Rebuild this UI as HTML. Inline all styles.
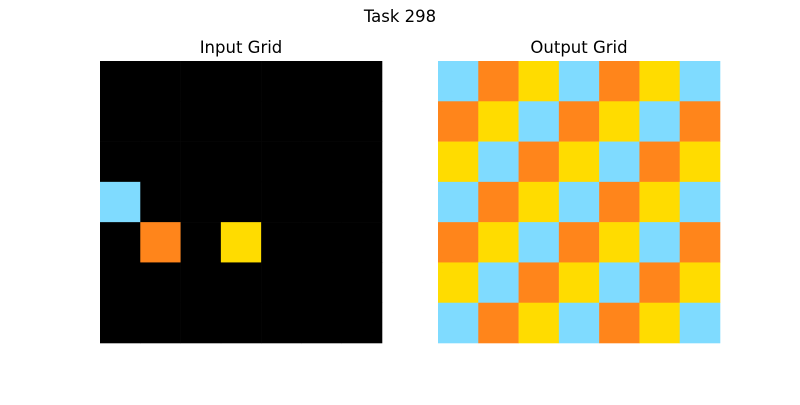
<!DOCTYPE html>
<html><head><meta charset="utf-8"><style>
body{margin:0;background:#fff;width:800px;height:400px;overflow:hidden;font-family:"Liberation Sans","DejaVu Sans",sans-serif;}
</style></head><body>
<svg width="800" height="400" id="fig">
<text x="400" y="22" text-anchor="middle" font-size="16.5" font-family="DejaVu Sans, sans-serif">Task 298</text>
<text x="241" y="53" text-anchor="middle" font-size="16.5" font-family="DejaVu Sans, sans-serif">Input Grid</text>
<text x="579" y="53" text-anchor="middle" font-size="16.5" font-family="DejaVu Sans, sans-serif">Output Grid</text>
<g id="gin"></g>
<g id="gout"></g>
</svg>
<script>
const palette=["#000000","#7FDBFF","#FF851B","#FFDC00"];
const inputGrid=[
[0,0,0,0,0,0,0],
[0,0,0,0,0,0,0],
[0,0,0,0,0,0,0],
[1,0,0,0,0,0,0],
[0,2,0,3,0,0,0],
[0,0,0,0,0,0,0],
[0,0,0,0,0,0,0]];
const outputGrid=[
[1,2,3,1,2,3,1],
[2,3,1,2,3,1,2],
[3,1,2,3,1,2,3],
[1,2,3,1,2,3,1],
[2,3,1,2,3,1,2],
[3,1,2,3,1,2,3],
[1,2,3,1,2,3,1]];
function draw(g,grid,x0,y0,size){
  const n=grid.length,cs=size/n;
  grid.forEach((row,r)=>row.forEach((v,c)=>{
    const el=document.createElementNS("http://www.w3.org/2000/svg","rect");
    el.setAttribute("x",x0+c*cs);el.setAttribute("y",y0+r*cs);
    el.setAttribute("width",cs+0.3);el.setAttribute("height",cs+0.3);
    el.setAttribute("fill",palette[v]);
    
    
    g.appendChild(el);
  }));
}
draw(document.getElementById("gin"),inputGrid,100,61,282);
draw(document.getElementById("gout"),outputGrid,438,61,282);
</script>
</body></html>
